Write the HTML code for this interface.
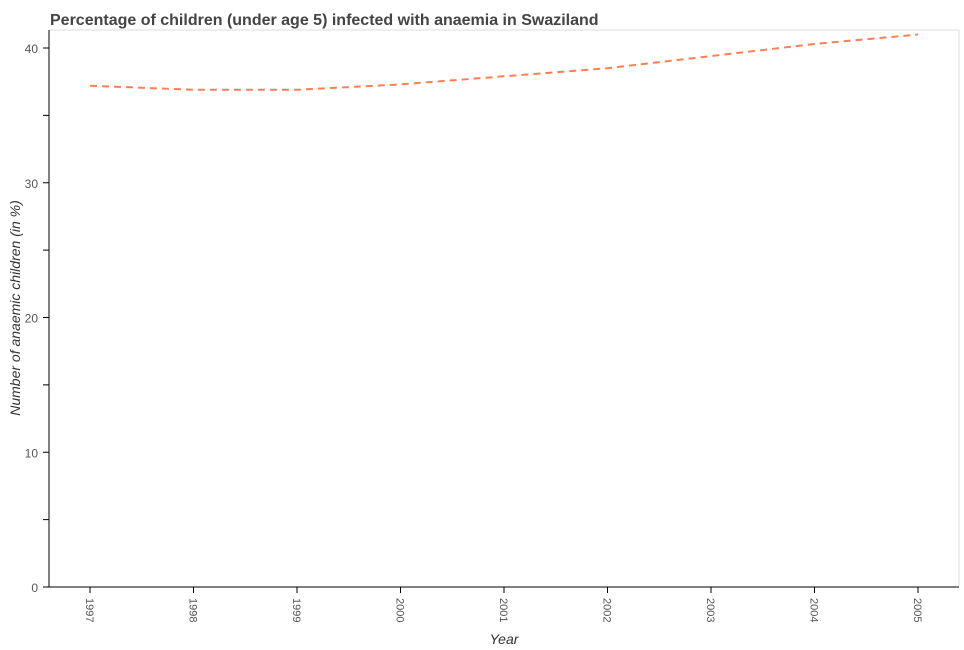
<!DOCTYPE html>
<html><head><meta charset="utf-8"><style>body{margin:0;background:#fff}svg{display:block;font-family:"Liberation Sans",sans-serif}</style></head>
<body>
<svg id="chart" width="964" height="650">
<text x="50" y="25" font-size="16" font-weight="bold" fill="#444">Percentage of children (under age 5) infected with anaemia in Swaziland</text>
<line x1="49" y1="30" x2="959" y2="30" stroke="#ddd"/>
<line x1="959" y1="30" x2="959" y2="587" stroke="#ddd"/>
<line x1="49" y1="30" x2="49" y2="587" stroke="#000"/>
<line x1="49" y1="587" x2="959" y2="587" stroke="#000"/>
<text transform="translate(20,308) rotate(-90)" text-anchor="middle" font-size="14" font-style="italic" fill="#333">Number of anaemic children (in %)</text>
<text x="504" y="644" text-anchor="middle" font-size="14" font-style="italic" fill="#333">Year</text>
<g id="ticks"></g>
<path id="line" fill="none" stroke="#ff7f50" stroke-width="2" stroke-dasharray="7,5"/>
</svg>
<script>
const years=["1997","1998","1999","2000","2001","2002","2003","2004","2005"];
const values=[37.2,36.9,36.9,37.3,37.9,38.5,39.4,40.3,41.0];
const yTicks=[0,10,20,30,40];
const NS="http://www.w3.org/2000/svg";
const x=i=>90+i*103.5;
const y=v=>587-v*13.475;
const g=document.getElementById('ticks');
function mk(t,a){const e=document.createElementNS(NS,t);for(const k in a)e.setAttribute(k,a[k]);g.appendChild(e);return e;}
for(let v=0;v<=40;v+=5){const l=mk('line',{x1:43,x2:49,y1:y(v),y2:y(v),stroke:'#000'});

}
yTicks.forEach(v=>{const t=mk('text',{x:38,y:y(v)+5,'text-anchor':'end','font-size':12,fill:'#555'});t.textContent=v;

});
years.forEach((yr,i)=>{const l=mk('line',{x1:x(i),x2:x(i),y1:587,y2:593,stroke:'#000'});


const t=mk('text',{transform:`translate(${x(i)-4},598) rotate(90)`,'font-size':11,fill:'#555'});t.textContent=yr;

});
document.getElementById('line').setAttribute('d',values.map((v,i)=>(i?'L':'M')+x(i)+','+y(v)).join(''));
</script>
</body></html>
